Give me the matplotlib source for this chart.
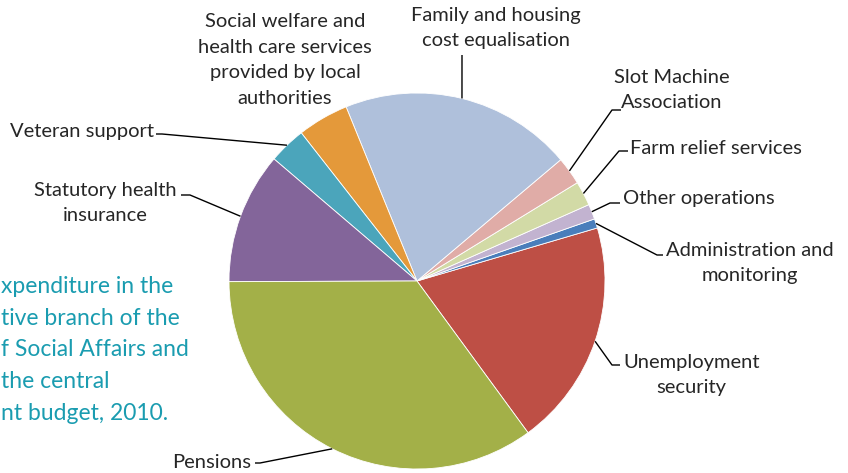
import numpy as np
import matplotlib
matplotlib.use("Agg")
import matplotlib.pyplot as plt

plt.rcParams['font.family'] = ['Lato', 'DejaVu Sans']

# shares of expenditure (%), counter-clockwise from Unemployment security
labels = ["Unemployment\nsecurity", "Administration and\nmonitoring", "Other operations",
          "Farm relief services", "Slot Machine\nAssociation", "Family and housing\ncost equalisation",
          "Social welfare and\nhealth care services\nprovided by local\nauthorities",
          "Veteran support", "Statutory health\ninsurance", "Pensions"]
shares = [19.5, 0.8, 1.3, 2.1, 2.4, 20.0, 4.4, 3.2, 11.3, 35.0]
colors = ["#BE4F45", "#4A7EBB", "#C2B3D0", "#D2DAA6", "#E0ACA7", "#AFC0DB",
          "#E4993A", "#4BA5BB", "#83659A", "#A3B048"]

caption = ["xpenditure in the", "tive branch of the", "f Social Affairs and",
           "the central", "nt budget, 2010."]

W, H = 848, 473
cx, cy, R = 417, H - 281, 188

# label placement in image pixels: (x, y, ha, elbow, text end)
place = [
    (623, 375, 'left', (612, 365), (620, 365)),
    (750, 263, 'center', (657, 255), (663, 255)),
    (623, 198, 'left', (610, 203), (620, 203)),
    (630, 148, 'left', (619, 151), (628, 151)),
    (672, 90, 'center', (612, 110), (621, 110)),
    (496, 28, 'center', None, (462, 55)),
    (285, 60, 'center', None, None),
    (154, 131, 'right', (162, 134), (156, 134)),
    (105, 203, 'center', (190, 195), (181, 195)),
    (251, 462, 'right', (260, 463), (255, 463)),
]

fig = plt.figure(figsize=(W / 100, H / 100), dpi=100)
ax = fig.add_axes([0, 0, 1, 1])
wedges, _ = ax.pie(shares, colors=colors, startangle=-53.8, counterclock=True,
                   radius=R, center=(cx, cy),
                   wedgeprops=dict(linewidth=0.6, edgecolor='white'))
ax.set_xlim(0, W)
ax.set_ylim(0, H)
ax.set_aspect('equal')
ax.axis('off')

for w, lab, (tx, ty, ha, elbow, end) in zip(wedges, labels, place):
    ax.text(tx, H - ty, lab, ha=ha, va='center', fontsize=14.5, color='#262626',
            linespacing=1.62, multialignment='center')
    if end is None:
        continue
    mid = np.deg2rad((w.theta1 + w.theta2) / 2)
    ex, ey = cx + R * np.cos(mid), cy + R * np.sin(mid)
    pts = [(ex, ey)]
    if elbow is not None:
        pts.append((elbow[0], H - elbow[1]))
    pts.append((end[0], H - end[1]))
    xs, ys = zip(*pts)
    ax.plot(xs, ys, color='black', lw=1.0, solid_capstyle='butt')

ax.text(1, H - 350, "\n".join(caption), ha='left', va='center', fontsize=16.5,
        color='#1A9CB0', linespacing=1.62)

fig.savefig("out.png", dpi=100)
